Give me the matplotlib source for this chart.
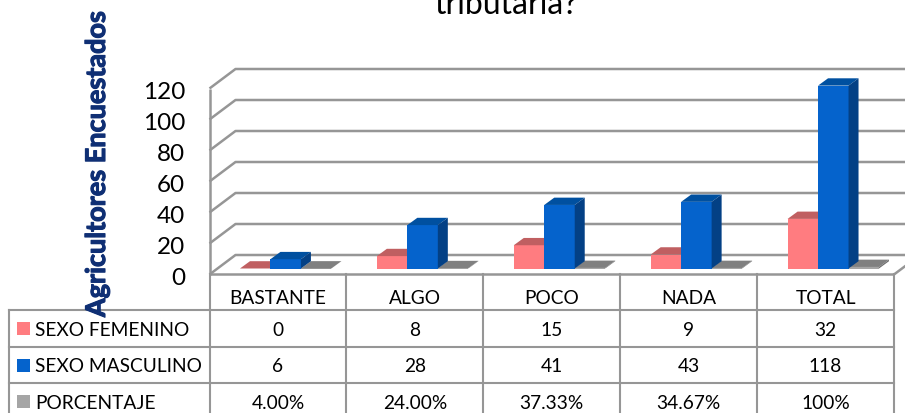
import matplotlib
matplotlib.use("Agg")
import matplotlib.pyplot as plt
import matplotlib.patheffects as pe
from matplotlib.patches import Polygon, Rectangle
from matplotlib.transforms import Affine2D, IdentityTransform

categories = ["BASTANTE", "ALGO", "POCO", "NADA", "TOTAL"]
femenino = [0, 8, 15, 9, 32]
masculino = [6, 28, 41, 43, 118]
porcentaje = [0.04, 0.24, 0.3733, 0.3467, 1.0]
porcentaje_labels = ["4.00%", "24.00%", "37.33%", "34.67%", "100%"]
y_ticks = [0, 20, 40, 60, 80, 100, 120]

W, H = 905, 414
FONT = "Lato"
LINE = "#969696"

fig = plt.figure(figsize=(W / 100, H / 100), dpi=100, facecolor="white")

# overlay in pixel units for the table and the loose text
pix = fig.add_axes([0, 0, 1, 1])
pix.set_xlim(0, W)
pix.set_ylim(H, 0)
pix.axis("off")

# main axes: front plane of the 3d box
ax = fig.add_axes([209.5 / W, (H - 275.5) / H, (894 - 209.5) / W, (275.5 - 89.5) / H])
ax.set_xlim(0, 5)
ax.set_ylim(0, 120)
ax.axis("off")
ax.patch.set_alpha(0)


def to_px(x, v, dx=0, dy=0):
    px, py = ax.transData.transform((x, v))
    return px + dx, py + dy


def poly(points, color, z):
    ax.add_patch(Polygon(points, closed=True, facecolor=color, edgecolor="none",
                         transform=IdentityTransform(), clip_on=False, zorder=z))


def seg(points, z=1, lw=1.8):
    xs = [p[0] for p in points]
    ys = [p[1] for p in points]
    ax.plot(xs, ys, color=LINE, lw=lw, transform=IdentityTransform(),
            clip_on=False, zorder=z, solid_capstyle="butt")


# walls, gridlines
BACK_X, BACK_Y = 26, 19.5
for v in y_ticks:
    seg([to_px(0, v), to_px(0, v, BACK_X, BACK_Y), to_px(5, v, BACK_X, BACK_Y)])
seg([to_px(0, 0), to_px(0, 120)])
seg([to_px(0, 0), to_px(5, 0), to_px(5, 0, BACK_X, BACK_Y)])

# bars
BASE_DY = 6
DEPTH_X, DEPTH_Y = 10, 7.3
BAR_W = 0.2226
bar_trans = ax.transData + Affine2D().translate(0, BASE_DY)
series = [
    (porcentaje, 2, "#A5A5A5", "#808080", "#6E6E6E"),
    (femenino, 0, "#FF7C80", "#C05F61", "#A85050"),
    (masculino, 1, "#0563CC", "#0050A0", "#034085"),
]
for i in range(len(categories)):
    for k, (vals, slot, front, top, side) in enumerate(series):
        x0 = i + BAR_W + slot * BAR_W
        x1 = x0 + BAR_W
        v = vals[i]
        z = 3 + k
        ax.bar(x0, v, BAR_W, align="edge", color=front, transform=bar_trans,
               clip_on=False, zorder=z)
        poly([to_px(x0, v, 0, BASE_DY), to_px(x1, v, 0, BASE_DY),
              to_px(x1, v, DEPTH_X, BASE_DY + DEPTH_Y), to_px(x0, v, DEPTH_X, BASE_DY + DEPTH_Y)],
             top, z)
        poly([to_px(x1, 0, 0, BASE_DY), to_px(x1, v, 0, BASE_DY),
              to_px(x1, v, DEPTH_X, BASE_DY + DEPTH_Y), to_px(x1, 0, DEPTH_X, BASE_DY + DEPTH_Y)],
             side, z)

# y tick labels
for v in y_ticks:
    _, py = to_px(0, v)
    pix.text(185, H - py + 3, str(v), ha="right", va="center", fontsize=17.5,
             family=FONT, color="black")

# title and axis label, the title's top is cut by the picture edge in the reference too
pix.text(506, 13.5, "tributaria?", ha="center", va="baseline", fontsize=23, family=FONT, color="black")
ylab = pix.text(97, 165, "Agricultores Encuestados", rotation=90, ha="center", va="center",
                fontsize=19.5, fontweight="bold", family=FONT, color="#0F2F74", zorder=6)
ylab.set_path_effects([pe.withStroke(linewidth=0.8, foreground="#0F2F74")])

# data table
col_x = [to_px(i, 0)[0] for i in range(6)]
row_y = [311, 348, 384.5]
for x in col_x:
    pix.plot([x, x], [275, H], color=LINE, lw=1.5)
pix.plot([9, 9], [311, H], color=LINE, lw=1.5)
for y in row_y:
    pix.plot([9, col_x[-1]], [y, y], color=LINE, lw=1.5)

TABLE_SIZE = 13.8
rows = [
    ("SEXO FEMENINO", "#FF7C80", [str(v) for v in femenino]),
    ("SEXO MASCULINO", "#0563CC", [str(v) for v in masculino]),
    ("PORCENTAJE", "#A5A5A5", porcentaje_labels),
]
row_mid = [329.5, 366, 402.5]
for i, c in enumerate(categories):
    pix.text((col_x[i] + col_x[i + 1]) / 2, 299, c, ha="center", va="center",
             fontsize=TABLE_SIZE, family=FONT, color="black")
for (name, color, cells), ym in zip(rows, row_mid):
    pix.add_patch(Rectangle((17, ym - 6.5), 13, 13, facecolor=color, edgecolor="none"))
    pix.text(35, ym + 1, name, ha="left", va="center", fontsize=TABLE_SIZE, family=FONT, color="black")
    for i, s in enumerate(cells):
        pix.text((col_x[i] + col_x[i + 1]) / 2, ym + 1, s, ha="center", va="center",
                 fontsize=TABLE_SIZE, family=FONT, color="black")

pix.set_xlim(0, W)
pix.set_ylim(H, 0)
fig.savefig("out.png", dpi=100)
plt.close(fig)
